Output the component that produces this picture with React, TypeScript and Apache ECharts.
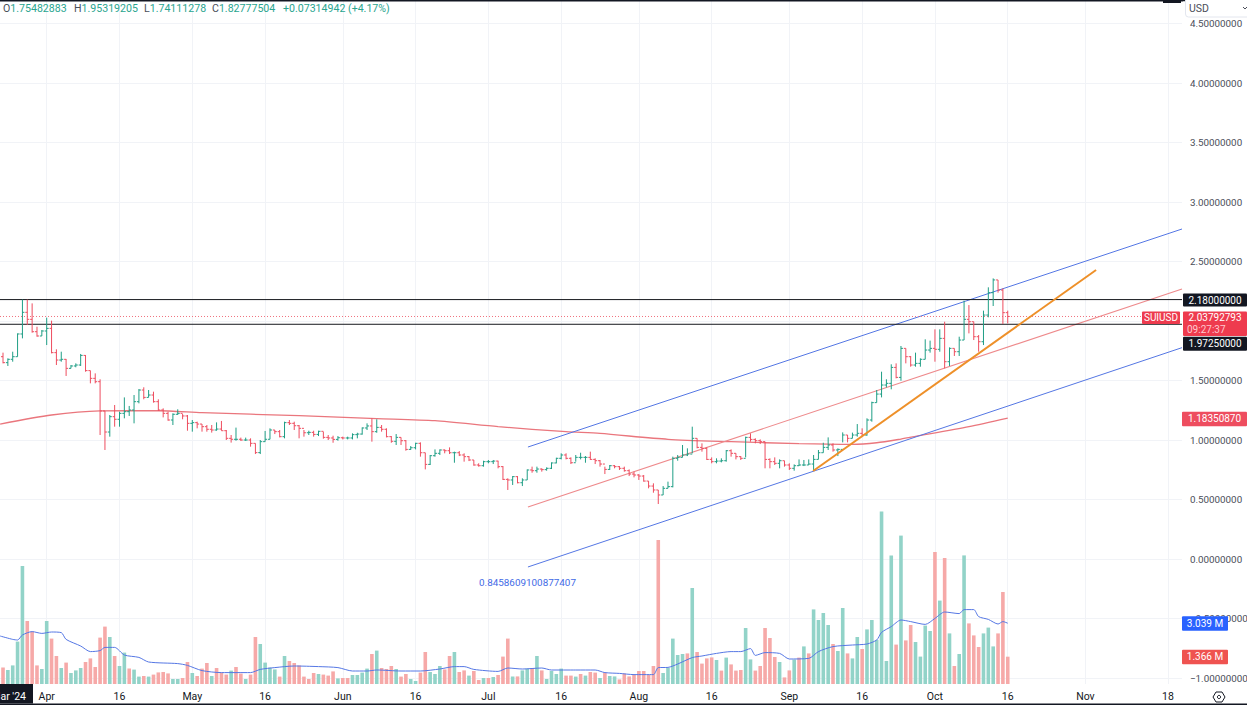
import React, { useEffect, useRef } from "react";
import * as echarts from "echarts";

const FONT = "Roboto, sans-serif";
const firstDay = -9;
const firstOpen = 1.7;
const dayMin = -9.62;
const dayMax = 233.9;

const closes = [
  1.65,1.678,1.7,1.891,2.073,2.014,1.91,1.874,1.916,1.938,
  1.734,1.672,1.678,1.602,1.622,1.63,1.711,1.583,1.518,1.49,
  1.244,1.067,1.196,1.174,1.224,1.238,1.252,1.322,1.42,1.358,
  1.378,1.322,1.252,1.224,1.168,1.216,1.224,1.202,1.14,1.146,
  1.134,1.112,1.09,1.084,1.092,1.078,1.014,1.006,1.006,1.0,
  1.0,0.972,0.894,0.986,1.006,1.084,1.07,1.028,1.146,1.14,1.12,1.098,
  1.061,1.064,1.047,1.073,1.022,1.017,1.005,1.019,1.017,1.017,
  1.045,1.05,1.101,1.118,1.07,1.106,1.09,1.028,0.989,1.022,
  0.994,0.921,0.935,0.972,0.893,0.795,0.868,0.888,0.916,0.91,
  0.893,0.893,0.874,0.86,0.832,0.79,0.784,0.818,0.818,0.823,
  0.776,0.669,0.664,0.692,0.641,0.664,0.748,0.742,0.756,0.751,
  0.762,0.807,0.846,0.874,0.846,0.809,0.854,0.854,0.854,0.837,0.826,0.798,
  0.753,0.784,0.776,0.762,0.742,0.714,0.706,0.697,0.655,0.613,
  0.58,0.538,0.594,0.608,0.846,0.854,0.874,0.882,1.014,0.938,
  0.93,0.837,0.818,0.823,0.826,0.91,0.888,0.86,0.846,1.022,
  1.005,0.994,0.986,0.837,0.818,0.804,0.826,0.79,0.762,0.784,
  0.79,0.79,0.798,0.837,0.893,0.938,0.958,0.916,0.921,
  1.042,1.014,1.042,1.056,1.042,1.168,1.314,1.386,1.462,1.476,
  1.61,1.526,1.77,1.7,1.63,1.644,1.678,1.756,1.77,1.762,
  1.854,1.658,1.77,1.742,1.84,2.014,1.994,1.868,1.826,2.05,
  2.238,2.345,2.26,2.07,2.038,
];
const highs = [
  1.734,1.686,1.742,1.896,2.18,2.18,2.148,1.952,1.924,2.028,
  2.003,1.762,1.742,1.681,1.63,1.644,1.723,1.714,1.583,1.56,
  1.51,1.244,1.21,1.294,1.238,1.358,1.286,1.378,1.428,1.443,
  1.42,1.406,1.342,1.266,1.238,1.224,1.258,1.218,1.21,1.168,
  1.154,1.134,1.126,1.126,1.148,1.16,1.084,1.042,1.104,1.02,
  1.02,1.014,0.972,1.0,1.076,1.098,1.084,1.084,1.154,1.168,1.154,1.126,
  1.084,1.078,1.078,1.078,1.07,1.042,1.036,1.033,1.028,1.028,
  1.056,1.061,1.106,1.14,1.182,1.174,1.126,1.098,1.033,1.05,
  1.022,1.0,0.949,0.977,0.98,0.893,0.874,0.921,0.921,0.921,
  0.938,0.902,0.907,0.888,0.865,0.832,0.804,0.826,0.832,0.832,
  0.826,0.781,0.678,0.697,0.697,0.678,0.753,0.776,0.776,0.762,
  0.77,0.812,0.851,0.888,0.888,0.854,0.874,0.893,0.865,0.902,0.846,0.832,
  0.776,0.79,0.79,0.781,0.776,0.753,0.734,0.714,0.706,0.655,
  0.636,0.58,0.613,0.65,0.86,0.874,0.958,0.93,1.112,1.014,
  0.972,0.938,0.854,0.846,0.846,0.916,0.921,0.888,0.865,1.028,
  1.056,1.014,1.005,0.986,0.846,0.854,0.837,0.826,0.804,0.795,
  0.837,0.832,0.837,0.874,0.916,0.977,1.022,0.972,0.93,
  1.064,1.042,1.062,1.134,1.098,1.182,1.322,1.42,1.574,1.51,
  1.636,1.644,1.79,1.77,1.706,1.734,1.686,1.846,1.835,1.93,
  1.93,1.994,1.778,1.77,1.868,2.171,2.134,1.994,1.882,2.087,
  2.283,2.358,2.345,2.274,2.087,
];
const lows = [
  1.644,1.622,1.658,1.7,1.854,1.966,1.902,1.868,1.874,1.798,
  1.728,1.63,1.658,1.538,1.602,1.611,1.622,1.574,1.476,1.476,
  1.042,0.916,1.028,1.112,1.112,1.182,1.202,1.14,1.308,1.342,
  1.358,1.314,1.244,1.19,1.162,1.126,1.21,1.174,1.078,1.07,
  1.098,1.07,1.07,1.062,1.078,1.078,1.0,0.978,0.994,0.992,
  0.992,0.944,0.882,0.882,0.986,1.006,1.05,1.022,1.014,1.126,1.084,1.014,
  1.028,1.042,1.028,1.033,1.011,1.0,0.977,0.994,1.005,1.005,
  1.005,1.014,1.045,1.084,0.986,1.061,1.07,1.022,0.977,0.958,
  0.958,0.91,0.916,0.921,0.86,0.753,0.79,0.86,0.874,0.888,
  0.882,0.809,0.865,0.818,0.823,0.784,0.776,0.776,0.804,0.798,
  0.762,0.664,0.58,0.622,0.636,0.613,0.664,0.725,0.725,0.734,
  0.742,0.756,0.804,0.837,0.837,0.798,0.818,0.837,0.809,0.832,0.798,0.776,
  0.714,0.748,0.762,0.748,0.734,0.697,0.686,0.664,0.65,0.594,
  0.557,0.462,0.538,0.594,0.602,0.826,0.854,0.865,0.888,0.93,
  0.902,0.832,0.804,0.804,0.812,0.818,0.86,0.837,0.832,0.854,
  0.986,0.972,0.966,0.762,0.762,0.79,0.762,0.776,0.748,0.742,
  0.781,0.781,0.79,0.748,0.837,0.893,0.916,0.902,0.865,
  0.98,0.98,1.014,1.028,1.028,1.036,1.154,1.314,1.358,1.442,
  1.426,1.518,1.498,1.644,1.616,1.616,1.616,1.678,1.734,1.658,
  1.742,1.602,1.622,1.706,1.706,1.84,1.896,1.84,1.742,1.798,
  2.031,2.126,2.238,1.975,1.98,
];

const volumes = [
  0.83,0.7,0.93,2.12,5.9,3.15,2.62,0.93,0.75,3.15,
  2.27,1.4,0.8,1.07,0.55,0.68,0.8,1.1,1.28,0.85,
  2.32,2.87,2.35,1.4,0.9,1.57,0.77,0.72,0.37,0.4,
  0.37,0.47,0.58,0.6,0.53,0.25,0.25,0.3,1.1,0.55,
  0.4,0.77,1.05,0.4,0.8,0.57,0.47,0.67,0.85,0.52,
  0.25,0.47,2.35,2.0,1.07,0.82,0.73,0.37,1.4,1.15,
  1.05,0.93,0.37,0.25,0.55,0.5,0.47,0.42,0.63,0.28,
  0.3,0.3,0.45,0.45,0.57,0.77,1.5,1.67,0.8,0.75,
  0.9,0.75,0.37,0.5,0.25,0.15,0.57,1.6,0.6,0.5,
  0.9,0.73,1.4,1.6,0.6,0.68,0.42,0.65,0.2,0.3,
  0.3,0.35,0.45,1.37,2.27,0.38,0.38,0.68,0.77,0.8,
  1.4,0.68,0.25,0.65,0.5,0.77,0.42,0.42,0.37,0.5,
  0.42,0.6,0.57,0.3,0.57,0.4,0.38,0.23,0.52,0.38,
  0.45,0.65,0.65,0.45,0.9,7.2,0.55,0.8,2.27,1.45,
  1.5,1.53,4.8,1.6,1.02,1.28,1.33,1.2,0.67,1.32,
  0.98,0.67,0.7,2.8,1.23,0.67,0.9,2.8,2.3,1.35,
  1.1,0.33,0.68,1.22,1.32,1.88,1.53,3.73,3.2,3.55,
  2.95,2.0,1.65,3.8,1.53,1.28,2.35,1.75,2.73,3.2,
  2.2,8.62,1.15,6.43,1.97,7.42,2.18,2.95,2.1,1.37,
  2.92,2.65,6.6,4.17,6.3,2.53,0.9,1.5,6.43,3.03,
  2.43,1.85,2.53,2.82,1.88,2.53,4.6,1.366,
];
const volumeSides = (
  "rggggrrrgg" + "rrgrgggrrr" + "rrgrggrggr" + "grrrrggrrg" + "rrrgrrrgrr" + "grrggggrgr" + "rrrrrgrrrg" +
  "rrggggrgrr" + "rgrrggrrgg" + "grrgrrgrrg" + "rgrrrgrggr" + "grggggrrgr" + "grrgrggrrr" + "rrrrrrgggg" +
  "grgrrrrgrg" + "rrrggrrrrr" + "grrgrgrggg" + "grggrggrgg" + "ggggrgrrgg" + "ggrgrgrggr" + "rrgggrrr"
).split("");

const volumeMaDays = [-9.6,-7,-6,-5,-3,-1,1,3,4,7,9,11,12,14,16,19,21,27,29,32,36,42,44,47,51,56,60,63,66,68,73,77,81,84,86,88,93,95,98,102,104,109,113,115,118,121,125,126,128,130,133,135,138,141,143,145,146,148,151,153,157,159,162,166,169,171,172,174,176,178,181,183,185,188,189,191,192,194,196,197,198];
const volumeMaValues = [2.4,2.23,2.2,2.45,2.62,2.53,2.6,2.57,2.23,1.9,1.62,1.67,1.83,1.83,1.45,1.33,1.1,1.02,0.93,0.67,0.57,0.57,0.73,0.82,0.9,0.87,0.82,0.65,0.65,0.7,0.65,0.65,0.75,0.87,0.87,0.73,0.63,0.8,0.75,0.8,0.7,0.7,0.7,0.57,0.53,0.47,0.47,0.82,0.83,1.0,1.32,1.4,1.53,1.62,1.62,1.77,1.43,1.57,1.53,1.25,1.28,1.62,1.87,1.95,2.0,2.2,2.58,2.87,3.2,3.12,2.98,3.28,3.6,3.52,3.72,3.72,3.37,3.23,3.0,3.12,3.039];

const longMaDays = [-9.6,1,11,23,32,52,68,80,93,107,114,128,141,155,166,171,176,179,190,198];
const longMaValues = [1.134,1.21,1.244,1.246,1.23,1.204,1.18,1.162,1.112,1.07,1.055,1.006,0.986,0.969,0.963,0.977,1.008,1.03,1.112,1.1835];

const channelDays = [99.15, 233.9];
const upperChannel = [0.941, 2.773];
const middleChannel = [0.437, 2.269];
const lowerChannel = [-0.067, 1.776];
const trendDays = [157.9, 216.2];
const trendValues = [0.739, 2.429];

const levelHigh = 2.18;
const levelLow = 1.9725;
const lastPrice = 2.03792793;
const longMaLast = 1.1835087;
const volumeMaLast = 3.039;
const volumeLast = 1.366;

const tickDays = [0,15,30,45,61,76,91,106,122,137,153,168,183,198,214,231];
const tickLabels = ["Apr","16","May","16","Jun","16","Jul","16","Aug","16","Sep","16","Oct","16","Nov","18"];

const legendLabels = ["O", "H", "L", "C"];
const legendValues = ["1.75482883", "1.95319205", "1.74111278", "1.82777504"];
const legendChange = "+0.07314942 (+4.17%)";
const channelNote = "0.8458609100877407";

const UP = "#1f9e85";
const DOWN = "#ee4d5f";
const VOL_UP = "#92d3c8";
const VOL_DOWN = "#f6a9a8";
const BLUE = "#5577e4";
const GRID = "#f1f3f7";
const TEXT = "#4a4e59";

const days = closes.map((_, i) => firstDay + i);
const opens = closes.map((_, i) => (i === 0 ? firstOpen : closes[i - 1]));
const ohlc = days.map((d, i) => [d, opens[i], highs[i], lows[i], closes[i]]);

const fmtPrice = (v: number) => (v < 0 ? "\u2212" + Math.abs(v).toFixed(8) : v.toFixed(8));
const axisPrice = (v: number) => (v === 2 || v === 5 || v === -1.5 ? "" : fmtPrice(v));
const pairs = (xs: number[], ys: number[]) => xs.map((x, i) => [x, ys[i]]);

function renderOhlc(params: any, api: any) {
  const d = api.value(0);
  const o = api.coord([d, api.value(1)]);
  const h = api.coord([d, api.value(2)]);
  const l = api.coord([d, api.value(3)]);
  const c = api.coord([d, api.value(4)]);
  const stroke = api.value(4) >= api.value(1) ? UP : DOWN;
  const style = { stroke, lineWidth: 1, fill: "none" };
  return {
    type: "group",
    children: [
      { type: "line", shape: { x1: h[0], y1: h[1], x2: l[0], y2: l[1] }, style },
      { type: "line", shape: { x1: o[0] - 2, y1: o[1], x2: o[0], y2: o[1] }, style },
      { type: "line", shape: { x1: c[0], y1: c[1], x2: c[0] + 2, y2: c[1] }, style },
    ],
  };
}

const lineSeries = (name: string, data: number[][], color: string, width: number, extra: any = {}, axisIndex = 0, smooth: number | boolean = false) => ({
  name,
  type: "line",
  xAxisIndex: axisIndex,
  yAxisIndex: axisIndex,
  data,
  smooth,
  showSymbol: false,
  symbol: "none",
  silent: true,
  lineStyle: { color, width, ...extra },
  z: 3,
});

function tag(x: number, y: number, w: number, h: number, fill: string, text: string, color = "#ffffff", size = 10) {
  return [
    { type: "rect", z: 100, shape: { x, y, width: w, height: h, r: 1 }, style: { fill } },
    {
      type: "text",
      z: 101,
      x: x + w / 2,
      y: y + h / 2,
      style: { text, fill: color, font: `${size}px ${FONT}`, align: "center", verticalAlign: "middle" },
    },
  ];
}

export default function App() {
  const ref = useRef<HTMLDivElement>(null);
  useEffect(() => {
    document.body.style.margin = "0";
    const chart = echarts.init(ref.current!, undefined, { renderer: "svg" });
    chart.setOption({
      animation: false,
      backgroundColor: "#ffffff",
      grid: [
        { left: 0, width: 1182, top: -36, height: 773.5, outerBoundsMode: "none", containLabel: false },
        { left: 0, width: 1182, top: 0, height: 684, outerBoundsMode: "none", containLabel: false },
      ],
      xAxis: [
        { type: "value", gridIndex: 0, min: dayMin, max: dayMax, show: false },
        {
          type: "value",
          gridIndex: 1,
          min: dayMin,
          max: dayMax,
          axisLine: { show: false },
          axisTick: { show: false, customValues: tickDays },
          splitLine: { show: true, lineStyle: { color: GRID, width: 1 } },
          axisLabel: {
            customValues: tickDays,
            formatter: (v: number) => tickLabels[tickDays.indexOf(v)] ?? "",
            color: "#131722",
            fontFamily: FONT,
            fontSize: 10.5,
            margin: 7,
            hideOverlap: false,
          },
        },
      ],
      yAxis: [
        {
          type: "value",
          gridIndex: 0,
          position: "right",
          min: -1.5,
          max: 5,
          interval: 0.5,
          axisLine: { show: false },
          axisTick: { show: false },
          splitLine: { show: true, lineStyle: { color: GRID, width: 1 } },
          axisLabel: { formatter: axisPrice, color: TEXT, fontFamily: FONT, fontSize: 9.8, margin: 8 },
        },
        { type: "value", gridIndex: 1, min: 0, max: 34.2, show: false },
      ],
      series: [
        {
          name: "Volume",
          type: "bar",
          xAxisIndex: 1,
          yAxisIndex: 1,
          barWidth: 3.6,
          silent: true,
          data: days.map((d, i) => ({
            value: [d, volumes[i]],
            itemStyle: { color: volumeSides[i] === "g" ? VOL_UP : VOL_DOWN },
          })),
          z: 2,
        },
        lineSeries("Volume MA", pairs(volumeMaDays, volumeMaValues), BLUE, 1, {}, 1, 0.25),
        lineSeries("MA", pairs(longMaDays, longMaValues), "#ea767d", 1.3, {}, 0, 0.25),
        lineSeries("Upper channel", pairs(channelDays, upperChannel), BLUE, 1),
        lineSeries("Middle channel", pairs(channelDays, middleChannel), "#ee8a8c", 1.1),
        lineSeries("Lower channel", pairs(channelDays, lowerChannel), BLUE, 1),
        lineSeries("Level high", pairs([dayMin, dayMax], [levelHigh, levelHigh]), "#16181d", 1),
        lineSeries("Level low", pairs([dayMin, dayMax], [levelLow, levelLow]), "#16181d", 1),
        lineSeries("Last price", pairs([dayMin, dayMax], [lastPrice, lastPrice]), "#f0737f", 1, { type: [1, 2] }),
        {
          name: "SUIUSD",
          type: "custom",
          xAxisIndex: 0,
          yAxisIndex: 0,
          renderItem: renderOhlc,
          encode: { x: 0, y: [1, 2, 3, 4] },
          data: ohlc,
          silent: true,
          z: 4,
        },
        { ...lineSeries("Trend", pairs(trendDays, trendValues), "#ee9029", 2), z: 5 },
      ],
    });

    const py = (v: number) => chart.convertToPixel({ yAxisIndex: 0 }, v) as number;
    const vy = (v: number) => chart.convertToPixel({ yAxisIndex: 1 }, v) as number;
    const legendX = [3, 74, 144, 212];
    const tagX = 1183;
    const tagW = 64;
    const lastY = py(lastPrice);
    const graphic: any[] = [
      { type: "rect", z: 90, shape: { x: 0, y: 0, width: 1247, height: 1.6 }, style: { fill: "#131722" } },
      { type: "rect", z: 90, shape: { x: 1163, y: 0, width: 18, height: 3 }, style: { fill: "#131722" } },
      { type: "rect", z: 90, shape: { x: 0, y: 703.4, width: 1247, height: 1.6 }, style: { fill: "#131722" } },
      { type: "rect", z: 91, shape: { x: 1183, y: 1.6, width: 64, height: 18 }, style: { fill: "#ffffff" } },
      { type: "rect", z: 92, shape: { x: 1185.5, y: -3, width: 70, height: 20, r: 3 }, style: { fill: "#ffffff", stroke: "#e3e6ee", lineWidth: 1 } },
      { type: "text", z: 93, x: 1189, y: 8, style: { text: "USD", fill: TEXT, font: `10.5px ${FONT}`, verticalAlign: "middle" } },
      { type: "polyline", z: 93, shape: { points: [[1243, 7], [1245, 9], [1247, 7]] }, style: { stroke: TEXT, lineWidth: 1, fill: "none" } },
      { type: "rect", z: 90, shape: { x: 0, y: 684, width: 33, height: 19.4 }, style: { fill: "#131722" } },
      { type: "text", z: 91, x: 26, y: 696, style: { text: "Mar '24", fill: "#ffffff", font: `10.5px ${FONT}`, align: "right", verticalAlign: "middle" } },
      { type: "text", z: 50, x: 479, y: 582, style: { text: channelNote, fill: "#3f6ae6", font: `9.9px ${FONT}`, verticalAlign: "middle" } },
      { type: "polygon", z: 50, shape: { points: [[1213, 697], [1216, 692], [1222, 692], [1225, 697], [1222, 702], [1216, 702]] }, style: { stroke: "#131722", lineWidth: 1, fill: "none" } },
      { type: "circle", z: 50, shape: { cx: 1219, cy: 697, r: 1.6 }, style: { stroke: "#131722", lineWidth: 1, fill: "none" } },
    ];
    legendLabels.forEach((lab, i) => {
      graphic.push({
        type: "text",
        z: 50,
        x: legendX[i],
        y: 8,
        style: {
          text: `{a|${lab}}{b|${legendValues[i]}}`,
          verticalAlign: "middle",
          rich: {
            a: { fill: "#4a4e59", font: `10.6px ${FONT}` },
            b: { fill: "#2aa58f", font: `10.6px ${FONT}` },
          },
        },
      });
    });
    graphic.push({ type: "text", z: 50, x: 283, y: 8, style: { text: legendChange, fill: "#2aa58f", font: `10.6px ${FONT}`, verticalAlign: "middle" } });
    graphic.push(
      ...tag(tagX, py(levelHigh) - 6, tagW, 13, "#131722", fmtPrice(levelHigh)),
      { type: "rect", z: 100, shape: { x: tagX, y: lastY - 5, width: tagW, height: 24.5, r: 1 }, style: { fill: "#ee3b4e" } },
      { type: "text", z: 101, x: tagX + 32, y: lastY + 1, style: { text: fmtPrice(lastPrice), fill: "#ffffff", font: `10px ${FONT}`, align: "center", verticalAlign: "middle" } },
      { type: "text", z: 101, x: tagX + 4, y: lastY + 13, style: { text: "09:27:37", fill: "#ffc9cf", font: `10px ${FONT}`, verticalAlign: "middle" } },
      ...tag(1142, lastY - 5, 38, 12.5, "#ee3b4e", "SUIUSD"),
      ...tag(tagX, py(levelLow) + 12.5, tagW, 14, "#131722", fmtPrice(levelLow)),
      ...tag(tagX - 1, py(longMaLast) - 6.5, tagW + 1, 14.5, "#ee4d5f", fmtPrice(longMaLast)),
      ...tag(1182, vy(volumeMaLast) - 7, 46, 14.5, "#2962ff", volumeMaLast.toFixed(3) + " M"),
      ...tag(1182, vy(volumeLast) - 7, 46, 14.5, "#ef5350", volumeLast.toFixed(3) + " M"),
    );
    chart.setOption({ graphic });
    return () => chart.dispose();
  }, []);
  return <div ref={ref} style={{ position: "absolute", left: 0, top: 0, width: 1247, height: 705 }} />;
}
